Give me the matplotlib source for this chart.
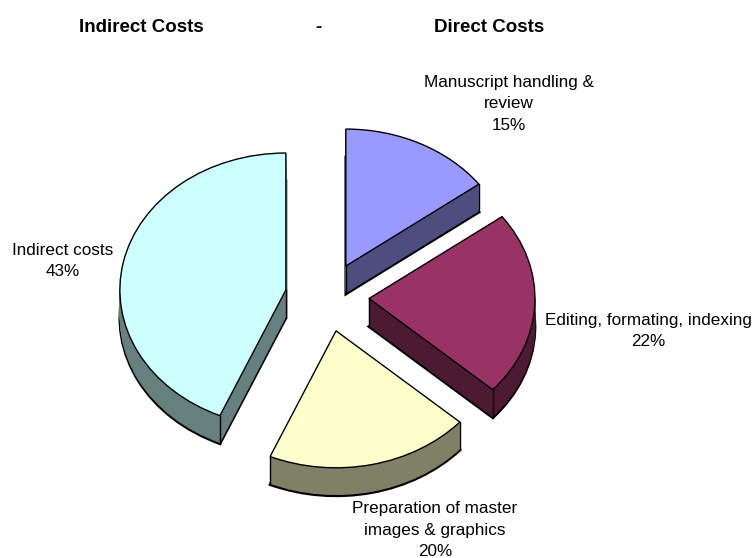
import numpy as np
import matplotlib
matplotlib.use("Agg")
import matplotlib.pyplot as plt

plt.rcParams['font.family'] = ['Liberation Sans', 'DejaVu Sans']

W, H = 755, 558
SQUASH = 0.825
categories = ["Manuscript handling &\nreview", "Editing, formating, indexing",
              "Preparation of master\nimages & graphics", "Indirect costs"]
values = [14.8, 21.8, 19.9, 43.5]
pct_labels = ["15%", "22%", "20%", "43%"]
face_colors = ["#9999ff", "#993366", "#ffffcc", "#ccffff"]
wall_colors = ["#4d4d80", "#4d1a33", "#808066", "#668080"]
titles = ["Indirect Costs", "-", "Direct Costs"]

RADIUS = 166
EXPLODE = [42] * 4
CX, CY = 327, 297
DEPTH = 28
FS = 12.3
FS_TITLE = 13.5

fig = plt.figure(figsize=(W / 100, H / 100), dpi=100, facecolor="white")
ax = fig.add_axes([0, 0, 1, 1])


def pie_at(depth, colors, **props):
    wedges, _ = ax.pie(values, explode=EXPLODE, radius=RADIUS, colors=colors,
                       center=(CX, -(CY + depth) / SQUASH), startangle=90,
                       counterclock=False, normalize=True, wedgeprops=props)
    return wedges


# bottom outline first, then stacked wall fills hide everything but its silhouette
pie_at(DEPTH, ["none"] * 4, linewidth=2.0, edgecolor="black")
for d in range(DEPTH - 1, 0, -1):
    for w, c in zip(pie_at(d, wall_colors, linewidth=0), wall_colors):
        w.set_edgecolor(c)
        w.set_linewidth(0.3)

# top faces
top = pie_at(0, face_colors, linewidth=1.0, edgecolor="black")

# vertical edges at the wedge corners (the corners at 12 o'clock are hidden)
zbase = top[0].get_zorder() + 0.5
for w in top:
    cx, cy = w.center
    corners = [(cx, cy)]
    for ang in (w.theta1, w.theta2):
        if abs((ang % 360) - 90) > 1:
            corners.append((cx + w.r * np.cos(np.radians(ang)),
                            cy + w.r * np.sin(np.radians(ang))))
    for x, y in corners:
        ax.plot([x, x], [y, y - DEPTH / SQUASH], color="black", lw=1.0, zorder=zbase)
for w in top:
    w.set_zorder(zbase + 1)

ax.set_aspect("auto")
ax.set_xlim(0, W)
ax.set_ylim(-H / SQUASH, 0)
ax.axis("off")


def txt(x, y, s, fs=FS, **kw):
    fig.text(x / W, 1 - y / H, s, ha="center", va="center", fontsize=fs,
             color="black", linespacing=1.52, **kw)


txt(509, 104, f"{categories[0]}\n{pct_labels[0]}")
txt(648, 331, f"{categories[1]}\n{pct_labels[1]}")
txt(435, 530, f"{categories[2]}\n{pct_labels[2]}")
txt(63, 261, f"{categories[3]}\n{pct_labels[3]}")
txt(141, 27, titles[0], fs=FS_TITLE, fontweight="bold")
txt(318, 27, titles[1], fs=FS_TITLE, fontweight="bold")
txt(489, 27, titles[2], fs=FS_TITLE, fontweight="bold")

fig.savefig("out.png", dpi=100, facecolor="white")
